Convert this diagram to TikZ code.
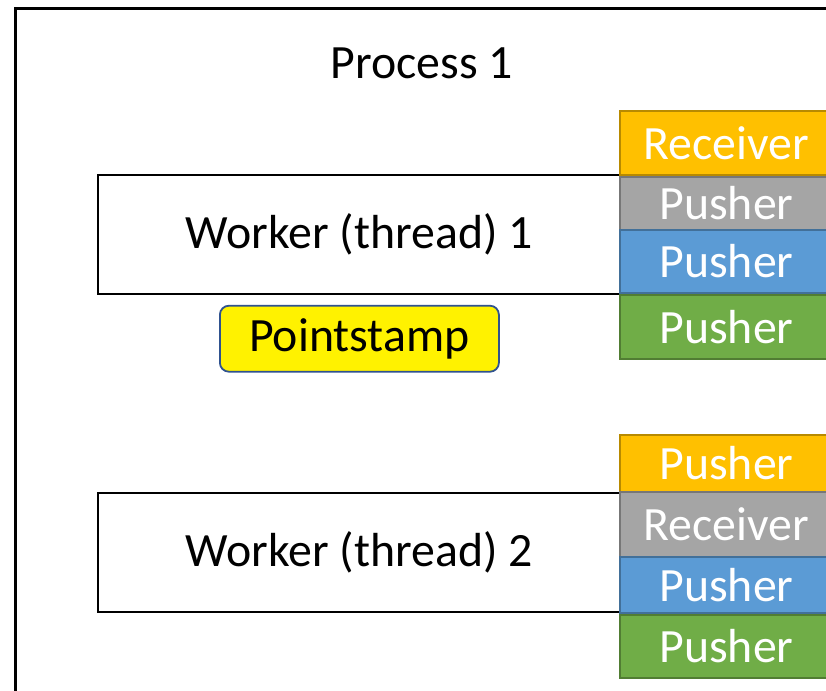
\documentclass[tikz,border=0pt]{standalone}
\usepackage{fontspec}
\setmainfont{Carlito}
\usepackage{xcolor}
\usetikzlibrary{positioning}

\definecolor{slotOrange}{HTML}{FFC000}
\definecolor{slotGray}{HTML}{A5A5A5}
\definecolor{slotBlue}{HTML}{5B9BD5}
\definecolor{slotGreen}{HTML}{70AD47}
\definecolor{stampBorder}{HTML}{2F528F}

\begin{document}
\begin{tikzpicture}[
        x=1pt, y=-1pt,
        font=\fontsize{47.8}{52}\selectfont,
        frame/.style={
            draw=black,
            line width=3pt,
            anchor=north west,
            inner sep=0pt,
            minimum width=860pt,
            minimum height=720pt
        },
        worker/.style={
            draw=black,
            line width=1.8pt,
            anchor=north west,
            inner sep=0pt,
            minimum width=523pt,
            minimum height=119pt
        },
        slot/.style={
            draw=#1!72!black,
            fill=#1,
            text=white,
            line width=1.5pt,
            anchor=north west,
            inner sep=0pt,
            outer sep=0pt,
            minimum width=213pt
        },
        stamp/.style={
            draw=stampBorder,
            fill=yellow,
            line width=1.8pt,
            rounded corners=9pt,
            inner sep=0pt,
            minimum width=279pt,
            minimum height=66pt
        }
    ]

        \clip (0,0) rectangle (826,690);
        \fill[white] (0,0) rectangle (826,690);

        \node[frame] (proc) at (13.5,7.5) {};
        \node (procLbl) at (422,63) {Process 1};

        \node[worker] (w1) at (97,174) {};
        \node[worker] (w2) at (97,492) {};
        \node at (w1.center) (w1Lbl) {Worker (thread) 1};
        \node at (w2.center) (w2Lbl) {Worker (thread) 2};

        \node[stamp, below=10pt of w1] (stamp) {Pointstamp};

        % stack of worker 1
        \node[slot=slotOrange, minimum height=64pt] (recv1) at (620,111) {Receiver};
        \node[slot=slotGray, minimum height=53pt, below=2pt of recv1.south west, anchor=north west] (push1a) {Pusher};
        \node[slot=slotBlue, minimum height=63pt, below=0pt of push1a.south west, anchor=north west] (push1b) {Pusher};
        \node[slot=slotGreen, minimum height=64pt, below=2pt of push1b.south west, anchor=north west] (push1c) {Pusher};

        % stack of worker 2
        \node[slot=slotOrange, minimum height=57pt] (push2a) at (620,435) {Pusher};
        \node[slot=slotGray, minimum height=65pt, below=0pt of push2a.south west, anchor=north west] (recv2) {Receiver};
        \node[slot=slotBlue, minimum height=56pt, below=0pt of recv2.south west, anchor=north west] (push2b) {Pusher};
        \node[slot=slotGreen, minimum height=63pt, below=2pt of push2b.south west, anchor=north west] (push2c) {Pusher};

    \end{tikzpicture}
\end{document}
